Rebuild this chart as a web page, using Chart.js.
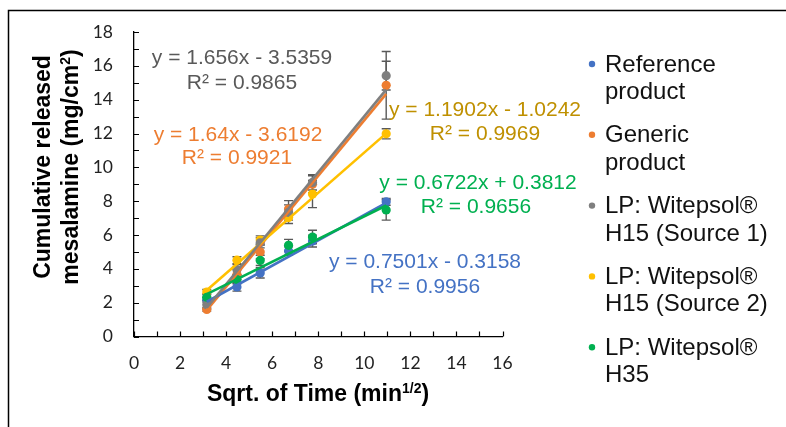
<!DOCTYPE html>
<html><head><meta charset="utf-8">
<script src="https://cdn.jsdelivr.net/npm/chart.js@4/dist/chart.umd.min.js"></script>
<style>html,body{margin:0;padding:0;background:#fff}#wrap{position:relative;width:786px;height:427px}</style>
</head><body><div id="wrap"><canvas id="c" width="786" height="427"></canvas></div>
<script>
// ---- data ----
const sqrtTime = [3.16, 4.47, 5.48, 6.71, 7.75, 10.95];
const seriesNames = [
  ["Reference", "product"],
  ["Generic", "product"],
  ["LP: Witepsol\u00AE", "H15 (Source 1)"],
  ["LP: Witepsol\u00AE", "H15 (Source 2)"],
  ["LP: Witepsol\u00AE", "H35"]
];
const refProduct   = [2.18, 2.93, 3.76, 5.05, 5.64, 7.96];
const genericProd  = [1.60, 3.66, 4.99, 7.53, 9.00, 14.85];
const h15Source1   = [1.88, 3.96, 5.54, 7.33, 9.11, 15.42];
const h15Source2   = [2.63, 4.51, 5.70, 7.03, 8.42, 11.98];
const h35          = [2.32, 3.37, 4.50, 5.39, 5.88, 7.48];
const refErr       = [0.15, 0.25, 0.30, 0.25, 0.35, 0.20];
const genericErr   = [0.10, 0.30, 0.40, 0.50, 0.50, 2.00];
const h15s1Err     = [0.25, 0.30, 0.30, 0.45, 0.45, 0.85];
const h15s2Err     = [0.15, 0.20, 0.25, 0.35, 0.80, 0.30];
const h35Err       = [0.20, 0.25, 0.30, 0.35, 0.40, 0.60];
const trendSlopes     = [0.7501, 1.64, 1.656, 1.1902, 0.6722];
const trendIntercepts = [-0.3158, -3.6192, -3.5359, -1.0242, 0.3812];
const trendR2         = ["0.9956", "0.9921", "0.9865", "0.9969", "0.9656"];
const xTicks = [0, 2, 4, 6, 8, 10, 12, 14, 16];
const yTicks = [0, 2, 4, 6, 8, 10, 12, 14, 16, 18];

// ---- styles ----
const colors = ["#4472C4", "#ED7D31", "#7F7F7F", "#FFC000", "#00B050"];
const textColors = ["#4472C4", "#ED7D31", "#595959", "#BF9000", "#00B050"];
const labelPos = [ // [eq cx, eq cy, r2 cx, r2 cy] pixel layout
  [425, 262, 425, 287],
  [238, 135, 237, 158],
  [242, 58, 242, 83],
  [485, 110, 485, 134],
  [478, 183, 476, 207]
];
const values = [refProduct, genericProd, h15Source1, h15Source2, h35];
const errors = [refErr, genericErr, h15s1Err, h15s2Err, h35Err];
const zOrder = [4, 5, 2, 3, 1]; // lower drawn on top

const datasets = [];
values.forEach((vals, i) => {
  datasets.push({
    label: seriesNames[i].join(' '),
    data: vals.map((v, k) => ({x: sqrtTime[k], y: v})),
    backgroundColor: colors[i], borderColor: colors[i],
    pointRadius: 4.6, pointBorderWidth: 0, showLine: false,
    order: zOrder[i] + 10, errs: errors[i]
  });
});
values.forEach((vals, i) => {
  const x0 = sqrtTime[0], x1 = sqrtTime[sqrtTime.length - 1];
  datasets.push({
    label: 'trend' + i,
    data: [{x: x0, y: trendSlopes[i]*x0 + trendIntercepts[i]}, {x: x1, y: trendSlopes[i]*x1 + trendIntercepts[i]}],
    borderColor: colors[i], borderWidth: 2.6, pointRadius: 0, showLine: true,
    order: zOrder[i], trend: true
  });
});

const fmtEq = i => {
  const b = trendIntercepts[i];
  return 'y = ' + trendSlopes[i] + 'x ' + (b < 0 ? '- ' : '+ ') + Math.abs(b);
};

const deco = {
  id: 'deco',
  beforeDatasetsDraw(chart) {
    const ctx = chart.ctx, xs = chart.scales.x, ys = chart.scales.y;
    ctx.save();
    ctx.strokeStyle = '#595959'; ctx.lineWidth = 1.4;
    chart.data.datasets.forEach(ds => {
      if (!ds.errs) return;
      ds.data.forEach((p, k) => {
        const e = ds.errs[k];
        const px = xs.getPixelForValue(p.x);
        const t = ys.getPixelForValue(p.y + e), b = ys.getPixelForValue(p.y - e);
        ctx.beginPath();
        ctx.moveTo(px, t); ctx.lineTo(px, b);
        ctx.moveTo(px - 4.5, t); ctx.lineTo(px + 4.5, t);
        ctx.moveTo(px - 4.5, b); ctx.lineTo(px + 4.5, b);
        ctx.stroke();
      });
    });
    ctx.restore();
  },
  afterDraw(chart) {
    const ctx = chart.ctx, xs = chart.scales.x, ys = chart.scales.y, ca = chart.chartArea;
    ctx.save();
    // frame
    ctx.strokeStyle = '#000'; ctx.lineWidth = 1.5;
    ctx.beginPath(); ctx.moveTo(8.5, 440); ctx.lineTo(8.5, 10.5); ctx.lineTo(800, 10.5); ctx.stroke();
    // inside ticks
    ctx.lineWidth = 1.2; ctx.strokeStyle = '#000';
    ctx.beginPath();
    for (let v = ys.min; v <= ys.max; v++) { const y = Math.round(ys.getPixelForValue(v)) + 0.5; ctx.moveTo(ca.left, y); ctx.lineTo(ca.left + 5, y); }
    for (let v = xs.min; v <= xs.max; v++) { const x = Math.round(xs.getPixelForValue(v)) + 0.5; ctx.moveTo(x, ca.bottom); ctx.lineTo(x, ca.bottom - 5); }
    ctx.stroke();
    // trend labels
    ctx.font = '21px "Liberation Sans", Arial, sans-serif';
    ctx.textAlign = 'center'; ctx.textBaseline = 'middle';
    for (let i = 0; i < 5; i++) {
      ctx.fillStyle = textColors[i];
      const p = labelPos[i];
      ctx.fillText(fmtEq(i), p[0], p[1]);
      ctx.fillText('R\u00B2 = ' + trendR2[i], p[2], p[3]);
    }
    // legend
    ctx.textAlign = 'left';
    ctx.font = '24px "Liberation Sans", Arial, sans-serif';
    for (let i = 0; i < 5; i++) {
      const y0 = 65 + i * 70.8;
      ctx.fillStyle = colors[i];
      ctx.beginPath(); ctx.arc(592, y0 - 1, 3.2, 0, Math.PI * 2); ctx.fill();
      ctx.fillStyle = '#111';
      seriesNames[i].forEach((ln, j) => ctx.fillText(ln, 605, y0 + j * 27.3));
    }
    // axis titles
    ctx.fillStyle = '#000';
    ctx.font = 'bold 23px "Liberation Sans", Arial, sans-serif';
    ctx.save();
    ctx.translate(44, 167); ctx.rotate(-Math.PI / 2);
    ctx.textAlign = 'center';
    ctx.fillText('Cumulative released', 0, 0);
    ctx.restore();
    ctx.save();
    ctx.translate(72, 167); ctx.rotate(-Math.PI / 2);
    const a = 'mesalamine (mg/cm', sup = '2', c = ')';
    ctx.font = 'bold 23px "Liberation Sans", Arial, sans-serif';
    const wa = ctx.measureText(a).width, wc = ctx.measureText(c).width;
    ctx.font = 'bold 14px "Liberation Sans", Arial, sans-serif';
    const ws = ctx.measureText(sup).width;
    let sx = -(wa + ws + wc) / 2;
    ctx.textAlign = 'left';
    ctx.font = 'bold 23px "Liberation Sans", Arial, sans-serif';
    ctx.fillText(a, sx, 0); sx += wa;
    ctx.font = 'bold 14px "Liberation Sans", Arial, sans-serif';
    ctx.fillText(sup, sx, -6); sx += ws;
    ctx.font = 'bold 23px "Liberation Sans", Arial, sans-serif';
    ctx.fillText(c, sx, 0);
    ctx.restore();
    // x title
    {
      const a = 'Sqrt. of Time (min', sup = '1/2', c = ')';
      ctx.font = 'bold 23px "Liberation Sans", Arial, sans-serif';
      const wa = ctx.measureText(a).width, wc = ctx.measureText(c).width;
      ctx.font = 'bold 14px "Liberation Sans", Arial, sans-serif';
      const ws = ctx.measureText(sup).width;
      let sx = 318 - (wa + ws + wc) / 2;
      ctx.textAlign = 'left';
      ctx.font = 'bold 23px "Liberation Sans", Arial, sans-serif';
      ctx.fillText(a, sx, 395); sx += wa;
      ctx.font = 'bold 14px "Liberation Sans", Arial, sans-serif';
      ctx.fillText(sup, sx, 389); sx += ws;
      ctx.font = 'bold 23px "Liberation Sans", Arial, sans-serif';
      ctx.fillText(c, sx, 395);
    }
    ctx.restore();
  }
};

new Chart(document.getElementById('c'), {
  type: 'scatter',
  data: { datasets },
  options: {
    responsive: false, animation: false, devicePixelRatio: 1,
    layout: { padding: { left: 0, right: 283.5, top: 32, bottom: 0 } },
    plugins: { legend: { display: false }, tooltip: { enabled: false } },
    scales: {
      x: {
        type: 'linear', min: xTicks[0], max: xTicks[xTicks.length - 1],
        afterFit: s => { s.height = 90.5; },
        afterBuildTicks: s => { s.ticks = xTicks.map(v => ({value: v})); },
        grid: { display: false, drawTicks: false },
        border: { display: true, color: '#000', width: 1.3 },
        ticks: { padding: 16, color: '#222', font: { family: 'Lato', size: 17.5 } }
      },
      y: {
        type: 'linear', min: yTicks[0], max: yTicks[yTicks.length - 1],
        afterFit: s => { s.width = 134; },
        afterBuildTicks: s => { s.ticks = yTicks.map(v => ({value: v})); },
        grid: { display: false, drawTicks: false },
        border: { display: true, color: '#000', width: 1.3 },
        ticks: { padding: 21, color: '#222', font: { family: 'Lato', size: 17.5 } }
      }
    }
  },
  plugins: [deco]
});
</script></body></html>
